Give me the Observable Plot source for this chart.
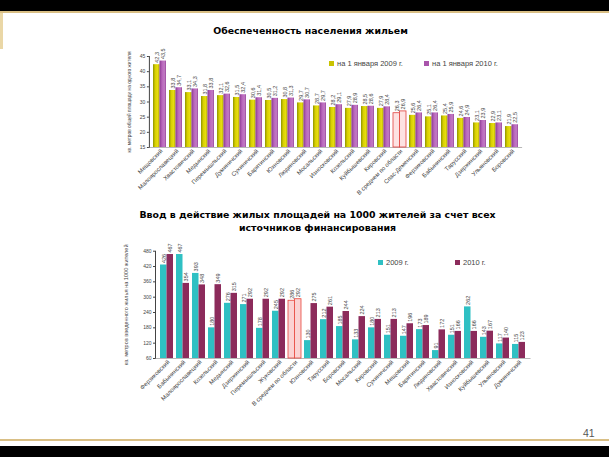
<!DOCTYPE html>
<html><head><meta charset="utf-8">
<script src="https://cdn.jsdelivr.net/npm/d3@7"></script>
<script src="https://cdn.jsdelivr.net/npm/@observablehq/plot@0.6"></script>
<style>
html,body{margin:0;padding:0;background:#fff;}
#page{position:relative;width:609px;height:457px;overflow:hidden;background:#fff;font-family:"Liberation Sans",Arial,sans-serif;}
.abs{position:absolute;}
.title{position:absolute;left:0;text-align:center;font-family:"DejaVu Sans",sans-serif;font-weight:bold;font-size:9.4px;color:#000;line-height:13px;}
.leg{position:absolute;font-size:7.5px;color:#444;white-space:nowrap;line-height:9px;}
.sw{display:inline-block;width:5px;height:5px;margin-right:3px;vertical-align:0px;}
svg{overflow:visible;}
</style></head><body><div id="page">
<div class="abs" style="left:0;top:0;width:609px;height:11px;background:#000"></div>
<div class="abs" style="left:0;top:11px;width:609px;height:2px;background:#d9bf85"></div>
<div class="abs" style="left:0;top:13px;width:3px;height:36px;background:#ead7a6"></div>
<div class="abs" style="left:0;top:439px;width:609px;height:2px;background:#d9bf85"></div>
<div class="abs" style="left:0;top:446px;width:609px;height:11px;background:#000"></div>
<div class="abs" style="left:583px;top:427px;font-size:10.5px;color:#555;">41</div>
<div class="title" style="top:24px;width:621px;">Обеспеченность населения жильем</div>
<div class="title" style="top:208px;width:635px;">Ввод  в действие жилых площадей на 1000 жителей за счет всех<br>источников финансирования</div>
<div id="chart1" class="abs" style="left:0;top:40px;"></div>
<div id="chart2" class="abs" style="left:0;top:235px;"></div>
<div id="leg1"></div>
<div id="leg2"></div>
</div>
<script>
// ---------- Chart 1 data ----------
const topCategories = ["Мещовский","Малоярославецкий","Хвастовичский","Медынский","Перемышльский","Думиничский","Сухиничский","Барятинский","Юхновский","Людиновский","Мосальский","Износковский","Козельский","Куйбышевский","Кировский","В среднем по области","Спас-Деменский","Ферзиковский","Бабынинский","Тарусский","Дзержинский","Ульяновский","Боровский"];
const top2009 = [42.3,33.8,33.1,31.8,32.1,31.5,30.6,30.5,30.8,29.7,28.7,28.2,27.9,28.5,27.9,26.3,25.6,25.1,25.4,24.6,23.1,22.9,21.9];
const top2010 = [43.5,34.7,34.3,33.8,32.6,32.4,31.4,31.2,31.3,30.7,29.7,29.1,28.9,28.6,28.4,26.9,26.4,26.4,25.9,24.9,23.9,23.1,22.5];
const topSeries = ["на 1 января 2009 г.","на 1 января 2010 г."];
const topTicks = [15,20,25,30,35,40,45];
const topAxisTitle = "кв. метров общей площади на одного жителя";

// ---------- Chart 2 data ----------
const botCategories = ["Ферзиковский","Бабынинский","Малоярославецкий","Козельский","Медынский","Дзержинский","Перемышльский","Жуковский","В среднем по области","Юхновский","Тарусский","Боровский","Мосальский","Кировский","Сухиничский","Мещовский","Барятинский","Людиновский","Хвастовичский","Износковский","Куйбышевский","Ульяновский","Думиничский"];
const bot2009 = [426,467,393,180,276,271,178,245,286,130,212,185,133,180,151,147,173,91,151,262,143,117,115];
const bot2010 = [467,354,348,349,315,292,292,292,292,275,261,244,224,213,213,196,189,172,166,166,167,140,123];
const botSeries = ["2009 г.","2010 г."];
const botTicks = [60,120,180,240,300,360,420,480];
const botAxisTitle = "кв. метров введенного жилья на 1000 жителей";

const avgName = "В среднем по области";
const fmt1 = v => d3.format(".1f")(v).replace(".", ",");
const fmt0 = v => d3.format("d")(v);

function rows(cats, a, b) {
  return cats.flatMap((c, i) => [{cat: c, s: 0, v: a[i]}, {cat: c, s: 1, v: b[i]}]);
}

function groupedChart(opts) {
  const {cats, a, b, ticks, axisTitle, titleSize, titleDx, colors, hiFill, hiStroke, fmt, width, height, ml, mr, mt, mb, pad, half} = opts;
  const data = rows(cats, a, b);
  const d0 = data.filter(d => d.s === 0), d1 = data.filter(d => d.s === 1);
  const fillOf = d => d.cat === avgName ? hiFill : colors[d.s];
  const strokeOf = d => d.cat === avgName ? hiStroke : "none";
  const ymin = ticks[0];
  const svg = Plot.plot({
    width, height, marginLeft: ml, marginRight: mr, marginTop: mt, marginBottom: mb,
    style: {fontFamily: "Liberation Sans, Arial, sans-serif", fontSize: "5px", color: "#444", background: "transparent"},
    x: {domain: cats, paddingInner: pad, paddingOuter: 0.1, axis: null},
    y: {domain: [ymin, ticks[ticks.length - 1]], ticks: ticks, tickSize: 2, tickPadding: 2, label: null, line: true, tickFormat: d => d},
    color: {type: "identity"},
    marks: [
      Plot.ruleY([ymin], {stroke: "#888", strokeWidth: 0.6}),
      Plot.barY(d0, {x: "cat", y1: ymin, y2: "v", insetRight: half, fill: fillOf, stroke: strokeOf, strokeWidth: 0.8}),
      Plot.barY(d1, {x: "cat", y1: ymin, y2: "v", insetLeft: half, fill: fillOf, stroke: strokeOf, strokeWidth: 0.8}),
      Plot.text(d0, {x: "cat", y: "v", text: d => fmt(d.v), rotate: -90, textAnchor: "start", dx: -half / 2, dy: -2, fontSize: 5.5, fill: "#444"}),
      Plot.text(d1, {x: "cat", y: "v", text: d => fmt(d.v), rotate: -90, textAnchor: "start", dx: half / 2, dy: -2, fontSize: 5.5, fill: "#444"}),
      Plot.text(cats, {x: d => d, frameAnchor: "bottom", text: d => d, rotate: -45, textAnchor: "end", dx: 3, dy: 4, fontSize: 6, fill: "#444"}),
      Plot.text([axisTitle], {frameAnchor: "left", textAnchor: "middle", text: d => d, rotate: -90, dx: titleDx, fontSize: titleSize, fill: "#444"})
    ]
  });
  return svg;
}

function addGrad(svg, id, stops) {
  let defs = d3.select(svg).select("defs");
  if (defs.empty()) defs = d3.select(svg).insert("defs", ":first-child");
  const g = defs.append("linearGradient").attr("id", id).attr("x1", 0).attr("x2", 1).attr("y1", 0).attr("y2", 0);
  stops.forEach(([o, c]) => g.append("stop").attr("offset", o).attr("stop-color", c));
}

// Chart 1
const svg1 = groupedChart({
  cats: topCategories, a: top2009, b: top2010, ticks: topTicks, axisTitle: topAxisTitle, titleSize: 4.8, titleDx: -20,
  colors: ["url(#gY)", "url(#gP)"], hiFill: "#fde2e2", hiStroke: "#e0403c", fmt: fmt1,
  width: 609, height: 170, ml: 148.9, mr: 86.9, mt: 16, mb: 63, pad: 0.2, half: 6.5
});
addGrad(svg1, "gY", [[0, "#8f9400"], [0.35, "#d8d000"], [0.7, "#e6dc10"], [1, "#b0ac00"]]);
addGrad(svg1, "gP", [[0, "#8a3890"], [0.4, "#b866bc"], [0.75, "#c27ac4"], [1, "#99489c"]]);
document.getElementById("chart1").appendChild(svg1);

// Chart 2
const svg2 = groupedChart({
  cats: botCategories, a: bot2009, b: bot2010, ticks: botTicks, axisTitle: botAxisTitle, titleSize: 5.6, titleDx: -29,
  colors: ["#2fc0c3", "#8c2b5b"], hiFill: "#fbd3d3", hiStroke: "#e8463c", fmt: fmt0,
  width: 609, height: 180, ml: 155, mr: 78.5, mt: 15.7, mb: 57, pad: 0.2, half: 6.5
});
document.getElementById("chart2").appendChild(svg2);

// Legends
function legend(el, items, colors, positions, top) {
  el.innerHTML = items.map((t, i) =>
    `<div class="leg" style="left:${positions[i]}px;top:${top}px;"><span class="sw" style="background:${colors[i]}"></span>${t}</div>`).join("");
}
legend(document.getElementById("leg1"), topSeries, ["#c9c300", "#a954ab"], [329, 424], 59);
legend(document.getElementById("leg2"), botSeries, ["#2fc0c3", "#8c2b5b"], [378, 455], 258);
</script>
</body></html>
